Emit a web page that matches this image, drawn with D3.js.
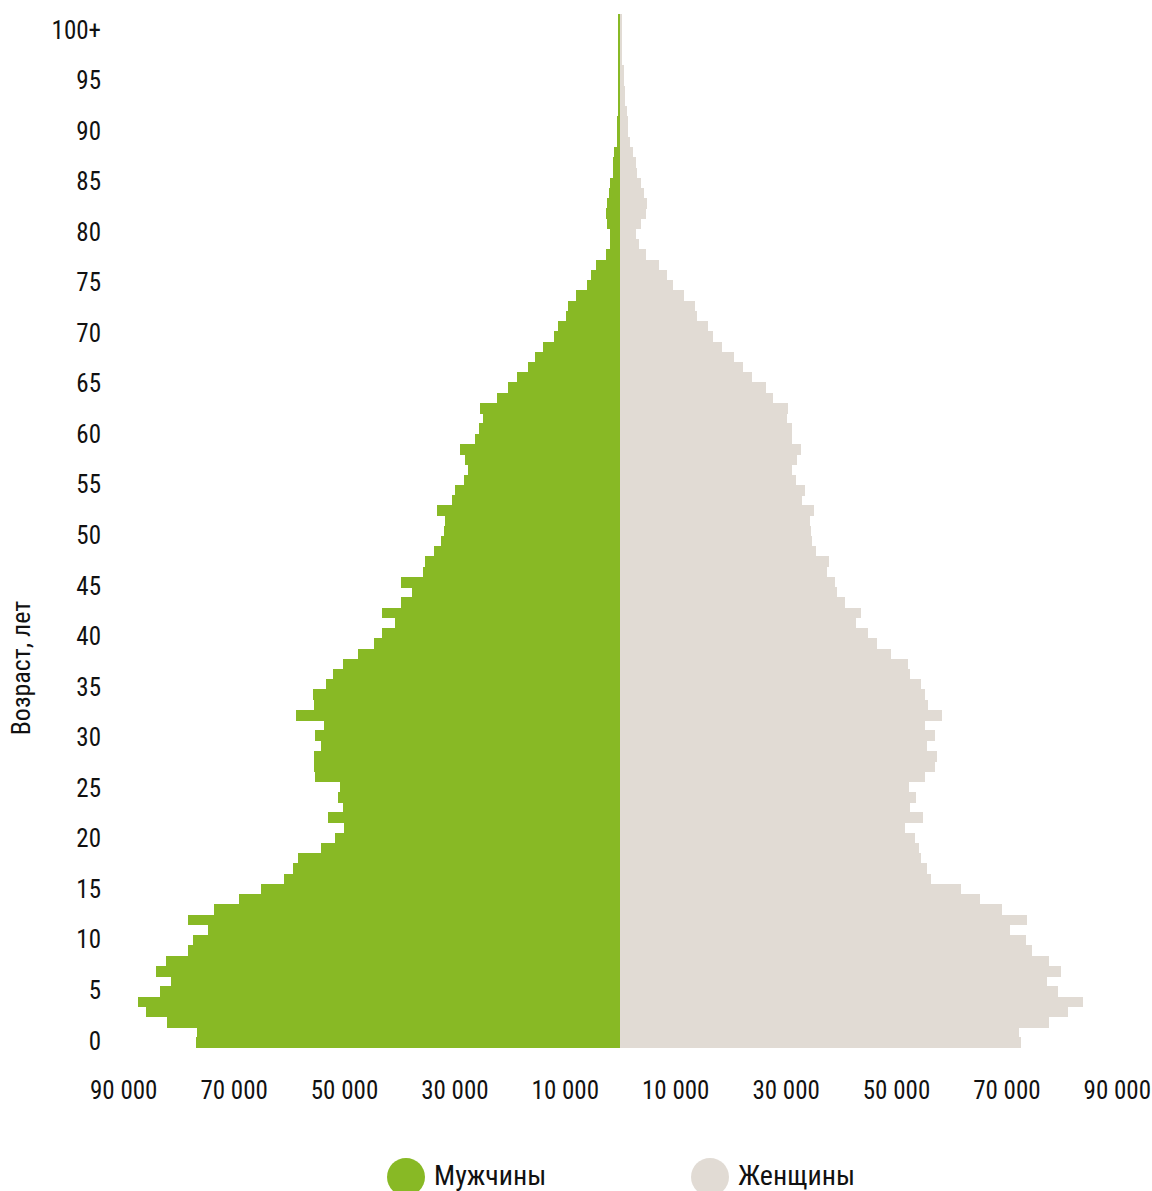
<!DOCTYPE html>
<html>
<head>
<meta charset="utf-8">
<script src="https://cdn.jsdelivr.net/npm/d3@7"></script>
<style>
  html, body { margin: 0; padding: 0; background: #fff; }
  svg text { font-family: "Liberation Sans Narrow", "Roboto Condensed", "DejaVu Sans Condensed", sans-serif; fill: #111; }
</style>
</head>
<body>
<div id="chart"></div>
<script>
'use strict';

// ages 0..100 (last one is 100+)
const ages = d3.range(0, 101);

// population, thousands
const men = [
  76.9, 76.7, 82.0, 85.8, 87.4, 83.4, 81.4, 84.1, 82.2, 78.2,
  77.4, 74.7, 78.2, 73.6, 69.1, 65.1, 60.9, 59.2, 58.3, 54.1,
  51.6, 50.0, 52.9, 50.1, 51.1, 50.8, 55.3, 55.4, 55.4, 54.2,
  55.3, 53.6, 58.7, 55.4, 55.6, 53.3, 52.0, 50.2, 47.5, 44.6,
  43.1, 40.8, 43.1, 39.7, 37.7, 39.7, 35.7, 35.3, 33.7, 32.4,
  31.9, 31.7, 33.2, 30.4, 29.9, 28.3, 27.5, 28.1, 29.0, 26.3,
  25.5, 24.8, 25.4, 22.3, 20.3, 18.7, 16.7, 15.4, 13.9, 12.0,
  11.2, 9.8, 9.4, 8.0, 6.0, 5.3, 4.3, 2.5, 1.8, 1.8,
  2.4, 2.5, 2.4, 2.0, 1.8, 1.3, 1.3, 1.1, 0.55, 0.55,
  0.55, 0.4, 0.35, 0.35, 0.3, 0.3, 0.3, 0.3, 0.3, 0.3,
  0.3
];

const women = [
  72.6, 72.3, 77.7, 81.2, 83.9, 79.4, 77.4, 79.9, 77.7, 74.6,
  73.6, 70.7, 73.7, 69.2, 65.2, 61.8, 56.3, 55.6, 54.5, 54.2,
  53.4, 51.6, 54.9, 52.5, 53.6, 52.4, 55.3, 57.1, 57.4, 55.6,
  57.1, 55.3, 58.3, 55.8, 55.3, 54.5, 52.5, 52.2, 49.1, 46.6,
  44.9, 42.8, 43.7, 40.8, 39.3, 39.0, 37.5, 37.9, 35.5, 34.8,
  34.6, 34.4, 35.1, 33.0, 33.5, 31.9, 31.2, 32.1, 32.8, 31.2,
  31.2, 30.3, 30.4, 27.7, 26.5, 23.9, 22.3, 20.7, 18.5, 16.8,
  15.9, 14.0, 13.6, 11.6, 9.6, 8.5, 7.0, 4.65, 3.38, 2.84,
  3.74, 4.65, 4.83, 4.29, 3.74, 3.0, 2.84, 2.3, 1.75, 1.39,
  1.39, 1.2, 0.85, 0.85, 0.66, 0.66, 0.3, 0.3, 0.3, 0.3,
  0.3
];

const xTicks = [10000, 30000, 50000, 70000, 90000];
const ageTicks = d3.range(0, 101, 5);
const seriesNames = ['Мужчины', 'Женщины'];
const colours = ['#88b925', '#e1dbd4'];

const width = 1152;
const height = 1191;
const mid = 620;

const svg = d3.select('#chart').append('svg')
  .attr('width', width)
  .attr('height', height)
  .attr('viewBox', `0 0 ${width} ${height}`);

const xMen = d3.scaleLinear().domain([0, 90000]).range([mid, 123.2]);
const xWomen = d3.scaleLinear().domain([0, 90000]).range([mid, 1116.8]);
const y = d3.scaleBand().domain(ages).range([1047.7, 14]).padding(0);
// the age labels in the picture sit on their own spacing
const yLab = d3.scaleLinear().domain([0, 100]).range([1041, 30]);

const bars = svg.append('g').attr('shape-rendering', 'crispEdges');

bars.selectAll('rect.men')
  .data(ages)
  .enter().append('rect')
  .attr('class', 'men')
  .attr('x', d => xMen(men[d] * 1000))
  .attr('y', d => y(d))
  .attr('width', d => mid - xMen(men[d] * 1000))
  .attr('height', y.bandwidth() + 0.5)
  .style('fill', colours[0]);

bars.selectAll('rect.women')
  .data(ages)
  .enter().append('rect')
  .attr('class', 'women')
  .attr('x', mid)
  .attr('y', d => y(d))
  .attr('width', d => xWomen(women[d] * 1000) - mid)
  .attr('height', y.bandwidth() + 0.5)
  .style('fill', colours[1]);

// axes
const fmt = d => d3.format(',')(d).replace(',', ' ');

const styleAxis = (g, size) => {
  g.select('.domain').remove();
  g.selectAll('line').remove();
  g.selectAll('text').style('font-size', size + 'px').style('fill', '#111');
};

svg.append('g')
  .attr('transform', 'translate(0,1081)')
  .call(d3.axisBottom(xMen).tickValues(xTicks).tickSize(0).tickPadding(0).tickFormat(fmt))
  .call(g => styleAxis(g, 25));

svg.append('g')
  .attr('transform', 'translate(0,1081)')
  .call(d3.axisBottom(xWomen).tickValues(xTicks).tickSize(0).tickPadding(0).tickFormat(fmt))
  .call(g => styleAxis(g, 25));

svg.append('g')
  .attr('transform', 'translate(101,0)')
  .call(d3.axisLeft(yLab).tickValues(ageTicks).tickSize(0).tickPadding(0)
    .tickFormat(d => d === 100 ? '100+' : d))
  .call(g => styleAxis(g, 25));

svg.append('text')
  .attr('transform', 'translate(30,668) rotate(-90)')
  .attr('text-anchor', 'middle')
  .style('font-size', '26px')
  .text('Возраст, лет');

// legend
const legend = svg.append('g');
const legendX = [406, 710];

legend.selectAll('circle')
  .data(seriesNames)
  .enter().append('circle')
  .attr('cx', (d, i) => legendX[i])
  .attr('cy', 1177)
  .attr('r', 19)
  .style('fill', (d, i) => colours[i]);

legend.selectAll('text')
  .data(seriesNames)
  .enter().append('text')
  .attr('x', (d, i) => legendX[i] + 28)
  .attr('y', 1185)
  .style('font-size', '28px')
  .text(d => d);
</script>
</body>
</html>
